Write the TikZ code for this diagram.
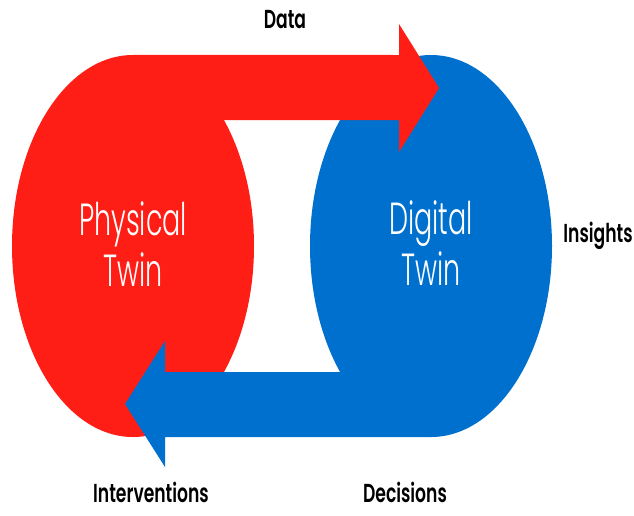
\documentclass[tikz,border=0pt]{standalone}
\usepackage{fontspec}
\usetikzlibrary{shapes.geometric}
\newfontfamily\thinf{Poppins}[UprightFont=* Light, FakeStretch=0.6]
\newfontfamily\boldf{Poppins}[UprightFont=* SemiBold, FakeStretch=0.66]
\definecolor{twred}{RGB}{255,30,22}
\definecolor{twblue}{RGB}{0,112,206}
\tikzset{
  twin/.style={ellipse, minimum width=242pt, minimum height=382pt, inner sep=0pt, draw=none},
  twinlbl/.style={anchor=base, inner sep=0pt, text=white, font=\thinf\fontsize{45}{50}\selectfont},
  flowlbl/.style={anchor=base, inner sep=0pt, text=black, font=\boldf\fontsize{26}{30}\selectfont},
}
\begin{document}
\begin{tikzpicture}[x=1pt,y=-1pt]
\useasboundingbox[fill=white] (0,0) rectangle (634,515);
\node[twin, fill=twred] (phys) at (133,246) {};
\node[twin, fill=twblue] (digi) at (431,246) {};
% Data arrow (physical -> digital)
\coordinate (dtip) at (439,88);
\fill[twred] (phys.north) -- (399,55) -- (399,24) -- (dtip) -- (399,152) -- (399,120) -- (133,120) -- cycle;
% Decisions arrow (digital -> physical)
\coordinate (itip) at (125,404);
\fill[twblue] (digi.south) -- (165,437) -- (165,467) -- (itip) -- (165,341) -- (165,372) -- (431,372) -- cycle;
\node[twinlbl] (p1) at (133,235) {Physical};
\node[twinlbl] (p2) at (133,286) {Twin};
\node[twinlbl] (d1) at (431,234) {Digital};
\node[twinlbl] (d2) at (431,285) {Twin};
\node[flowlbl] (data) at (285,28) {Data};
\node[flowlbl] (ins) at (598,242) {Insights};
\node[flowlbl] (intv) at (151,502) {Interventions};
\node[flowlbl] (dec) at (405,502) {Decisions};
\end{tikzpicture}
\end{document}
